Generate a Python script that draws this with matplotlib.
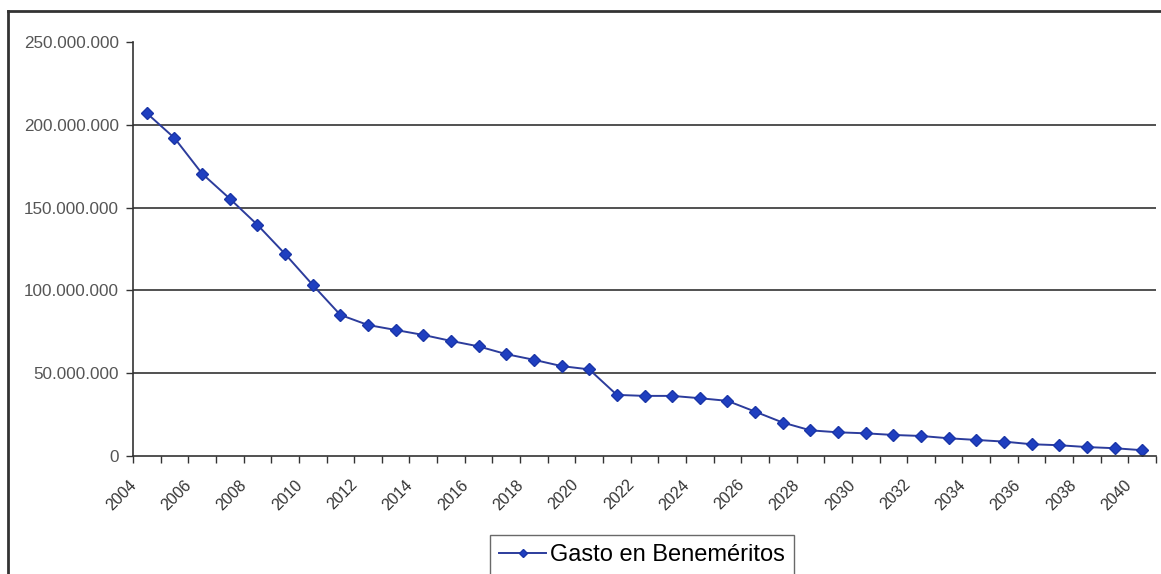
import matplotlib
matplotlib.use("Agg")
import matplotlib.pyplot as plt
from matplotlib.lines import Line2D
from matplotlib.ticker import FuncFormatter, FixedLocator
from matplotlib.transforms import ScaledTranslation

plt.rcParams["font.family"] = ["Liberation Sans", "DejaVu Sans"]

years = list(range(2004, 2041))
gasto = [
    207.0, 192.0, 170.5, 155.4, 139.6, 122.0, 103.3, 85.2, 79.1, 76.1,
    73.1, 69.5, 66.2, 61.5, 58.1, 54.3, 52.3, 36.9, 36.3, 36.3,
    34.9, 33.3, 26.8, 20.2, 15.5, 14.3, 13.7, 12.7, 12.1, 10.7,
    9.7, 8.7, 7.1, 6.5, 5.4, 4.7, 3.5,
]
gasto = [v * 1e6 for v in gasto]
serie = "Gasto en Beneméritos"

W, H = 1161, 574
fig = plt.figure(figsize=(W / 100, H / 100), dpi=100)
ax = fig.add_axes([133 / W, 1 - 456 / H, (1156 - 133) / W, (456 - 42) / H])

pos = list(range(len(years)))
ax.plot(pos, gasto, color="#2c3c9c", lw=1.4, marker="D", markersize=6.5,
        markerfacecolor="#1f3fc0", markeredgecolor="#1a35a8", label=serie)

ax.set_xlim(-0.5, len(years) - 0.5)
ax.set_ylim(0, 250e6)
ax.set_yticks([0, 50e6, 100e6, 150e6, 200e6, 250e6])
ax.yaxis.set_major_formatter(FuncFormatter(lambda v, p: f"{int(v):,}".replace(",", ".")))
for g in [50e6, 100e6, 150e6, 200e6]:
    ax.axhline(g, color="#222222", lw=1.1, zorder=0)

# category boundaries as tick marks, labels every second year
ax.xaxis.set_minor_locator(FixedLocator([i - 0.5 for i in range(len(years) + 1)]))
ax.set_xticks(pos[::2])
ax.set_xticklabels([str(y) for y in years[::2]])
ax.tick_params(axis="x", which="major", length=0, pad=19, labelsize=11.5, labelcolor="#333333")
ax.tick_params(axis="x", which="minor", length=5, width=1, color="#333333", direction="out")
ax.tick_params(axis="y", length=5, width=1, color="#333333", labelsize=12.3, labelcolor="#555555", pad=5)
shift = ScaledTranslation(-0.13, 0, fig.dpi_scale_trans)
for lab in ax.get_xticklabels():
    lab.set_rotation(45)
    lab.set_ha("right")
    lab.set_va("center")
    lab.set_rotation_mode("anchor")
    lab.set_transform(lab.get_transform() + shift)

for side in ["top", "right"]:
    ax.spines[side].set_visible(False)
ax.spines["left"].set_color("#333333")
ax.spines["bottom"].set_color("#333333")
ax.spines["left"].set_linewidth(1.2)
ax.spines["bottom"].set_linewidth(1.2)

leg = fig.legend(loc="upper center", bbox_to_anchor=(642 / W, 1 - 535 / H), fontsize=17,
                 frameon=True, fancybox=False, edgecolor="#444444", handlelength=2.0,
                 handletextpad=0.15, borderpad=0.4, borderaxespad=0, markerscale=0.7)
leg.get_frame().set_linewidth(1.0)

# outer chart border
fig.add_artist(Line2D([8 / W, 8 / W], [0, 1 - 11 / H], transform=fig.transFigure, color="#333333", lw=2))
fig.add_artist(Line2D([8 / W, 1], [1 - 11 / H, 1 - 11 / H], transform=fig.transFigure, color="#333333", lw=2))

fig.savefig("out.png", dpi=100)
